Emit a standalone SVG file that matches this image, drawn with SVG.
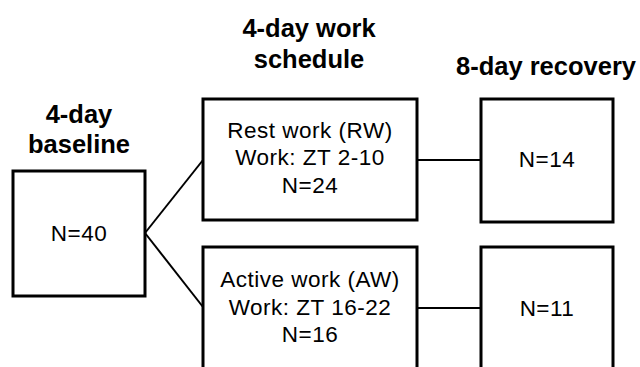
<svg xmlns="http://www.w3.org/2000/svg" width="640" height="367" viewBox="0 0 640 367">
<style>
.box{fill:#fff;stroke:#000;stroke-width:3}
.ln{stroke:#000;stroke-width:2;fill:none}
.t{font-family:"Liberation Sans",Arial,sans-serif;font-size:22.5px;letter-spacing:0.5px;fill:#000;text-anchor:middle}
.h{font-family:"Liberation Sans",Arial,sans-serif;font-size:25.5px;font-weight:bold;fill:#000;text-anchor:middle}
</style>
<rect width="640" height="367" fill="#fff"/>
<g id="headers">
<text class="h" x="79" y="123">4-day</text>
<text class="h" x="79" y="153">baseline</text>
<text class="h" x="309" y="37">4-day work</text>
<text class="h" x="309" y="68">schedule</text>
<text class="h" x="546" y="75">8-day recovery</text>
</g>
<g id="connectors">
<line class="ln" x1="145" y1="233" x2="203" y2="160"/>
<line class="ln" x1="145" y1="233" x2="203" y2="307"/>
<line class="ln" x1="417" y1="160" x2="481" y2="160"/>
<line class="ln" x1="417" y1="308" x2="481" y2="308"/>
</g>
<g id="baseline">
<rect class="box" x="13" y="171" width="132" height="125"/>
<text class="t" x="79" y="241">N=40</text>
</g>
<g id="rest-work">
<rect class="box" x="203" y="99" width="214" height="121"/>
<text class="t" x="310" y="138">Rest work (RW)</text>
<text class="t" x="310" y="165">Work: ZT 2-10</text>
<text class="t" x="310" y="193">N=24</text>
</g>
<g id="active-work">
<rect class="box" x="203" y="247" width="214" height="140"/>
<text class="t" x="310" y="287">Active work (AW)</text>
<text class="t" x="310" y="315">Work: ZT 16-22</text>
<text class="t" x="310" y="342">N=16</text>
</g>
<g id="recovery-rw">
<rect class="box" x="481" y="99" width="132" height="123"/>
<text class="t" x="547" y="167">N=14</text>
</g>
<g id="recovery-aw">
<rect class="box" x="481" y="247" width="132" height="140"/>
<text class="t" x="547" y="316">N=11</text>
</g>
</svg>
